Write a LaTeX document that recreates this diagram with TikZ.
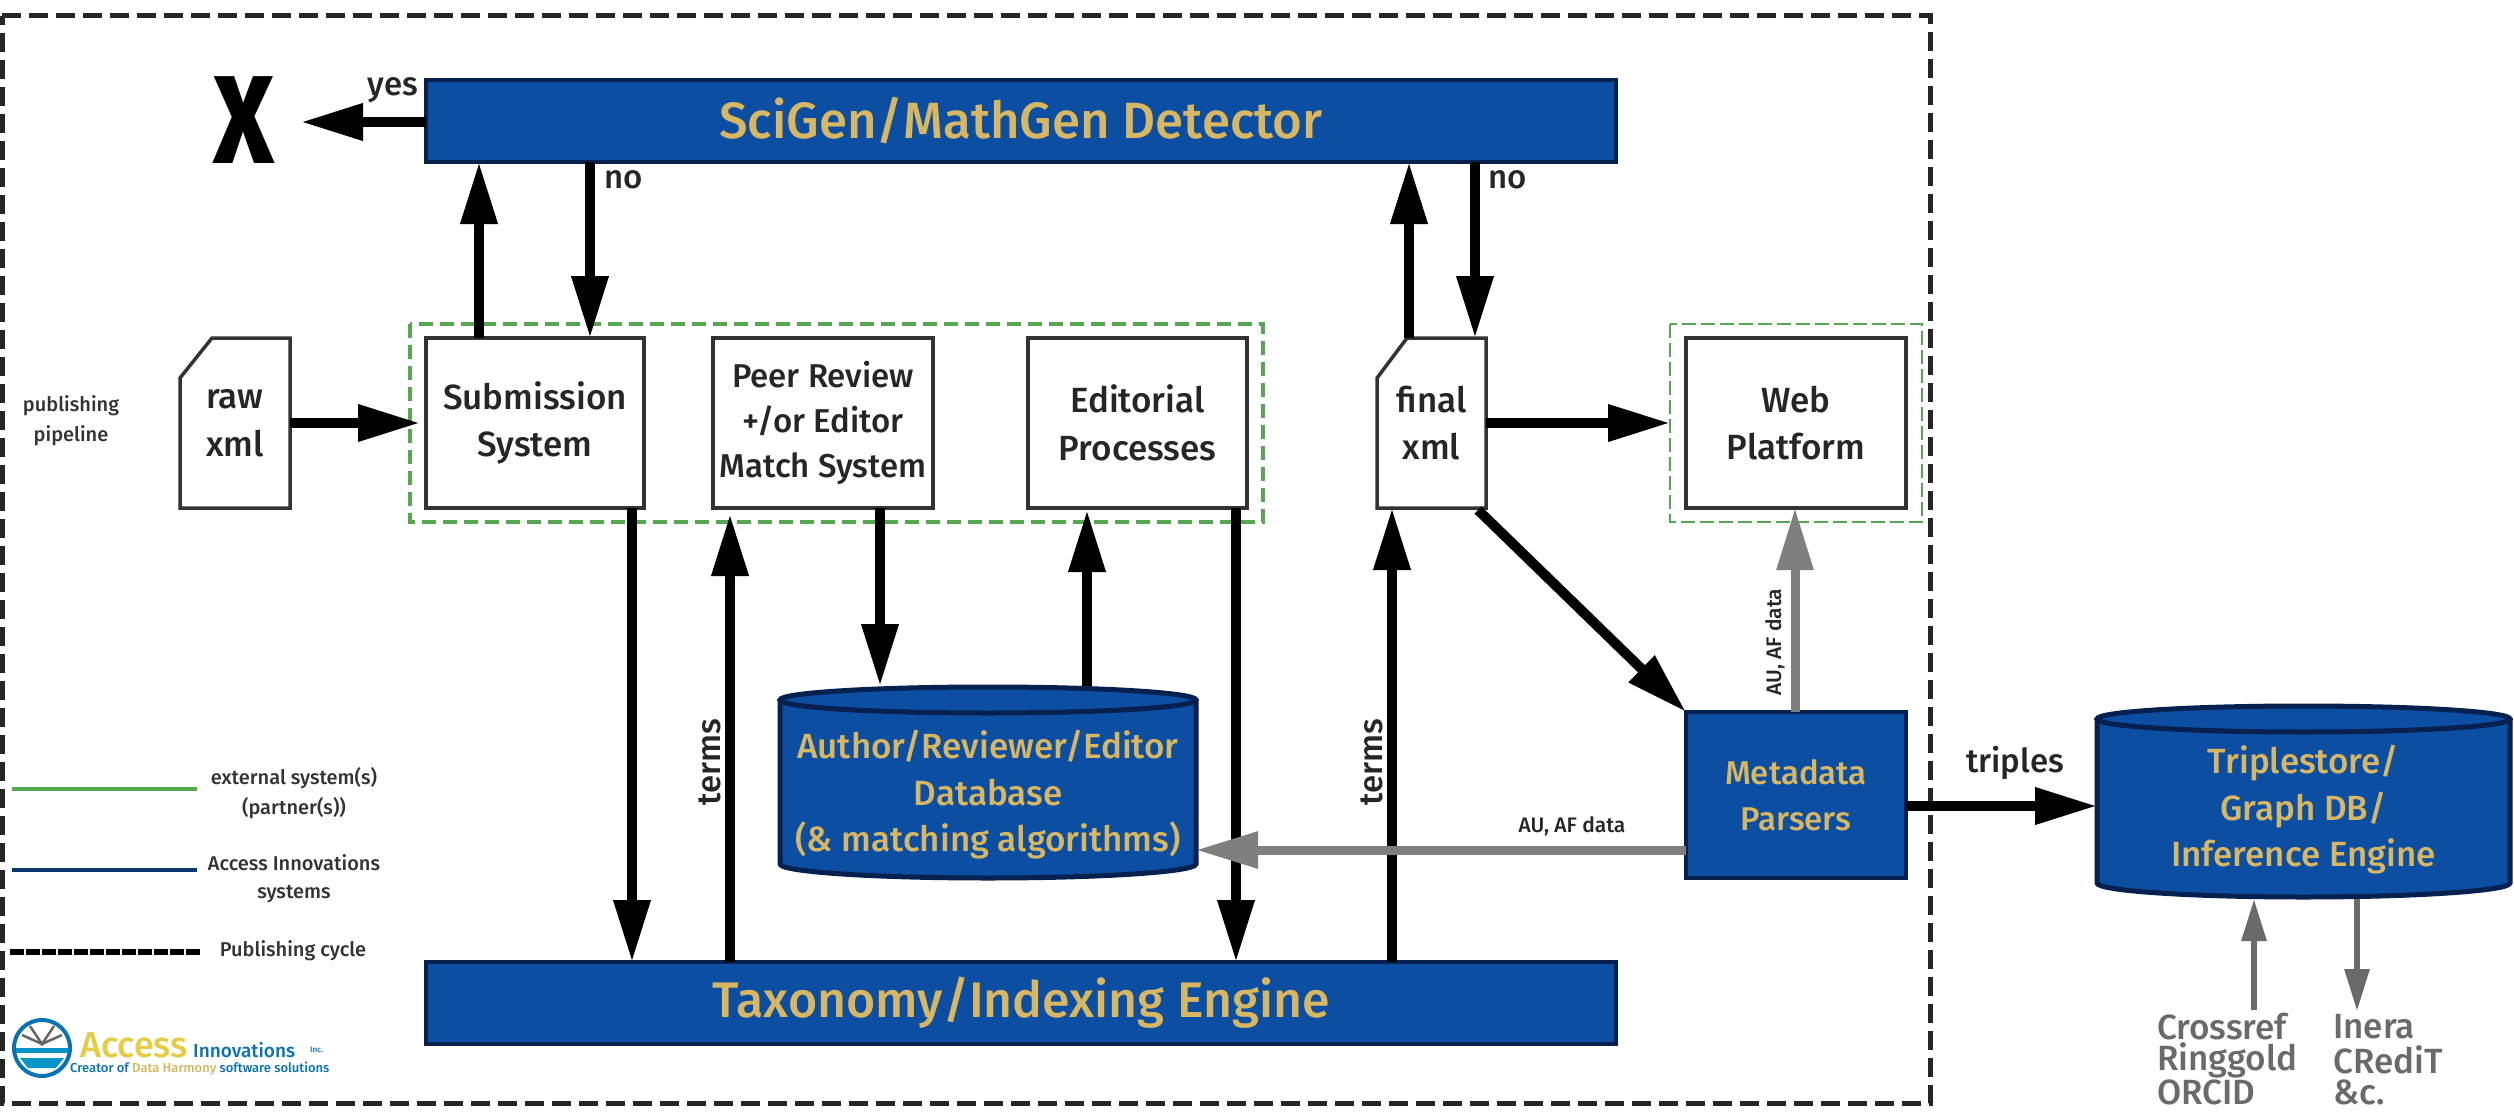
\documentclass[tikz,border=0pt]{standalone}
\usepackage{fontspec}
\setmainfont{Fira Sans Medium}
\usetikzlibrary{arrows.meta,calc}
\definecolor{ablue}{HTML}{0B4EA2}
\definecolor{anavy}{HTML}{06214F}
\definecolor{agold}{HTML}{D9B660}
\definecolor{agreen}{HTML}{55A84F}
\definecolor{agray}{HTML}{7F7F7F}
\definecolor{dgray}{HTML}{6A6A6A}
\newcommand{\fs}[1]{\fontsize{#1}{#1}\selectfont}
\tikzset{
 whitebox/.style={draw=black!80,line width=3.5pt,fill=white,inner sep=0pt,outer sep=0pt,align=center,font=\fs{35}\linespread{1.36}\selectfont,text=black!85},
 bluebox/.style={draw=anavy,line width=3.5pt,fill=ablue,inner sep=0pt,outer sep=0pt,align=center,text=agold},
 hollow/.style={inner sep=0pt,outer sep=0pt,align=center,font=\fs{35}\linespread{1.36}\selectfont,text=black!85},
 cylbody/.style={draw=anavy,line width=5pt,fill=ablue},
 arr/.style={line width=10pt,draw=black,-{Triangle[length=62pt,width=35pt]}},
 garr/.style={line width=9pt,draw=agray,-{Triangle[length=62pt,width=35pt]}},
 tarr/.style={line width=6pt,draw=dgray,-{Triangle[length=42pt,width=24pt]}},
 greenbox/.style={draw=agreen,line width=3.5pt,dash pattern=on 14pt off 7pt},
 greenthin/.style={draw=agreen,line width=2.5pt,dash pattern=on 14pt off 5pt},
 outer/.style={draw=black!85,line width=5pt,dash pattern=on 19pt off 8pt},
 lab/.style={font=\fs{33},text=black!85,inner sep=0pt},
 small/.style={font=\fs{21},text=black!85,inner sep=0pt,align=center},
 legend/.style={font=\fs{20},text=black!80,inner sep=0pt,align=center},
 partner/.style={font=\fs{35},text=dgray,inner sep=0pt,anchor=west}
}
\begin{document}
\begin{tikzpicture}[x=1pt,y=-1pt]
\useasboundingbox (0,0) rectangle (2514,1113);
\fill[white] (0,0) rectangle (2514,1113);
% publishing cycle boundary
\draw[outer] (2,16) -- (1930,16) -- (1930,1103) -- (2,1103) -- cycle;
% main nodes
\node[bluebox,minimum width=1190pt,minimum height=82pt,font=\fs{51}] (sci) at (1021,121) {SciGen/MathGen Detector};
\node[bluebox,minimum width=1190pt,minimum height=82pt,font=\fs{50}] (tax) at (1021,1003) {Taxonomy/Indexing Engine};
\node[font=\bfseries\fs{125},inner sep=0pt,xscale=0.82] (x) at (244,120) {X};
% green groups
\draw[greenbox] (410,324) rectangle (1263,522);
\draw[greenthin] (1670,324) rectangle (1922,522);
% documents
\draw[draw=black!80,line width=3.5pt,fill=white] (212,338) -- (290,338) -- (290,508) -- (180,508) -- (180,378) -- cycle;
\node[hollow,minimum width=110pt,minimum height=170pt] (raw) at (235,423) {raw\\xml};
\draw[draw=black!80,line width=3.5pt,fill=white] (1407,338) -- (1486,338) -- (1486,508) -- (1377,508) -- (1377,378) -- cycle;
\node[hollow,minimum width=109pt,minimum height=170pt] (final) at (1431.5,423) {final\\xml};
% boxes
\node[whitebox,minimum width=218pt,minimum height=170pt] (subm) at (535,423) {Submission\\System};
\node[whitebox,minimum width=220pt,minimum height=170pt,font=\fs{33}\linespread{1.36}\selectfont] (peer) at (823,423) {Peer Review\\+/or Editor\\Match System};
\node[whitebox,minimum width=219pt,minimum height=170pt] (edit) at (1137.5,423) {Editorial\\Processes};
\node[whitebox,minimum width=220pt,minimum height=170pt] (web) at (1796,423) {Web\\Platform};
\node[bluebox,minimum width=220pt,minimum height=166pt,font=\fs{33}\linespread{1.4}\selectfont] (meta) at (1796,795) {Metadata\\Parsers};
% cylinders
\draw[cylbody] (780,700) -- (780,864) arc[start angle=180,end angle=360,x radius=208pt,y radius=14pt] -- (1196,700);
\draw[cylbody] (988,700) ellipse[x radius=208pt,y radius=13pt];
\node[inner sep=0pt,outer sep=0pt,minimum width=416pt,minimum height=192pt,align=center,text=agold,font=\fs{35}\linespread{1.33}\selectfont] (adb) at (988,795) {Author/Reviewer/Editor\\Database\\(\& matching algorithms)};
\draw[cylbody] (2097,719) -- (2097,883) arc[start angle=180,end angle=360,x radius=206.5pt,y radius=14pt] -- (2510,719);
\draw[cylbody] (2303.5,719) ellipse[x radius=206.5pt,y radius=13pt];
\node[inner sep=0pt,outer sep=0pt,minimum width=413pt,minimum height=192pt,align=center,text=agold,font=\fs{35}\linespread{1.33}\selectfont] (tri) at (2303.5,810) {Triplestore/\\Graph DB/\\Inference Engine};
% top connectors
\draw[arr] (sci.west |- 0,122) -- (301,122);
\node[lab] (yes) at (393,90) {yes};
\draw[arr] ($(subm.north west)+(53,0)$) -- ($(sci.south west)+(53,0)$);
\draw[arr] ($(sci.south west)+(164,0)$) -- ($(subm.north west)+(164,0)$);
\node[lab] (no1) at (624,180) {no};
\draw[arr] ($(final.north west)+(32,0)$) -- ($(final.north west |- sci.south)+(32,0)$);
\draw[arr] ($(final.north east |- sci.south)+(-11,0)$) -- ($(final.north east)+(-11,0)$);
\node[lab] (no2) at (1508,180) {no};
% pipeline
\draw[arr] (raw.east) -- (420,423);
\draw[arr] (final.east) -- (1670,423);
% vertical
\draw[arr] ($(subm.south west)+(206,0)$) -- ($(tax.north west)+(206,0)$);
\draw[arr] ($(tax.north west)+(304,0)$) -- (730,514);
\node[lab,rotate=90] (terms1) at (710,762) {terms};
\draw[arr] (880,508) -- (880,686);
\draw[arr] (1087,686) -- (1087,510);
\draw[arr] (1236,508) -- (1236,962);
\draw[arr] (1392,962) -- (final.south -| 1392,0);
\node[lab,rotate=90] (terms2) at (1372,762) {terms};
\draw[arr] (1478,510) -- (meta.north west);
% gray
\draw[garr] (meta.north -| 1795,0) -- (web.south -| 1795,0);
\node[small,rotate=90] (au1) at (1775,642) {AU, AF data};
\draw[garr] (meta.west |- 0,850) -- (1196,850);
\node[small] (au2) at (1572,826) {AU, AF data};
% triples
\draw[arr] (meta.east |- 0,806) -- (2097,806);
\node[lab] (trip) at (2015,763) {triples};
% partners
\node[partner] (cr) at (2157,1027) {Crossref};
\node[partner] (rg) at (2157,1060) {Ringgold};
\node[partner] (or) at (2157,1092) {ORCID};
\node[partner] (in) at (2333,1027) {Inera};
\node[partner] (cd) at (2333,1060) {CRediT};
\node[partner] (ec) at (2333,1092) {\&c.};
\draw[tarr] (2254,1010) -- (2254,899);
\draw[tarr] (2357,899) -- (2357,1011);
% legend
\node[legend] (pp) at (71,421) {publishing\\[9pt]pipeline};
\coordinate (ga) at (12,789); \coordinate (gb) at (197,789);
\draw[agreen,line width=4pt] (ga) -- (gb);
\node[legend] (ext) at (294,793) {external system(s)\\[8pt](partner(s))};
\coordinate (ba) at (12,870); \coordinate (bb) at (197,870);
\draw[ablue!70!black,line width=4pt] (ba) -- (bb);
\node[legend] (ai) at (294,879) {Access Innovations\\[8pt]systems};
\coordinate (ka) at (10,952); \coordinate (kb) at (200,952);
\draw[black,line width=6pt,dash pattern=on 14pt off 2pt] (ka) -- (kb);
\node[legend] (pc) at (293,951) {Publishing cycle};
% logo
\draw[ablue!80!cyan,line width=4pt,fill=white] (42,1048) circle[radius=28pt];
\fill[ablue!60!cyan] (16,1048) -- (68,1048) -- (68,1053) -- (16,1053) -- cycle;
\fill[ablue!60!cyan] (20,1058) -- (64,1058) -- (56,1068) -- (28,1068) -- cycle;
\draw[black!60,line width=2.5pt] (22,1035) -- (42,1044) -- (62,1035);
\draw[black!60,line width=2.5pt] (30,1026) -- (42,1044) -- (54,1026);
\node[font=\fs{36},text=agold!70!yellow,inner sep=0pt,anchor=west] (lg1) at (80,1045) {Access};
\node[font=\fs{19},text=ablue!80!cyan,inner sep=0pt,anchor=west] (lg2) at (193,1050) {Innovations};
\node[font=\fs{8},text=ablue!80!cyan,inner sep=0pt,anchor=west] (lg3) at (310,1050) {Inc.};
\node[font=\fs{13},text=ablue!80!cyan,inner sep=0pt,anchor=west] (lg4) at (70,1069) {Creator of \textcolor{agold}{Data Harmony} software solutions};
\end{tikzpicture}
\end{document}
